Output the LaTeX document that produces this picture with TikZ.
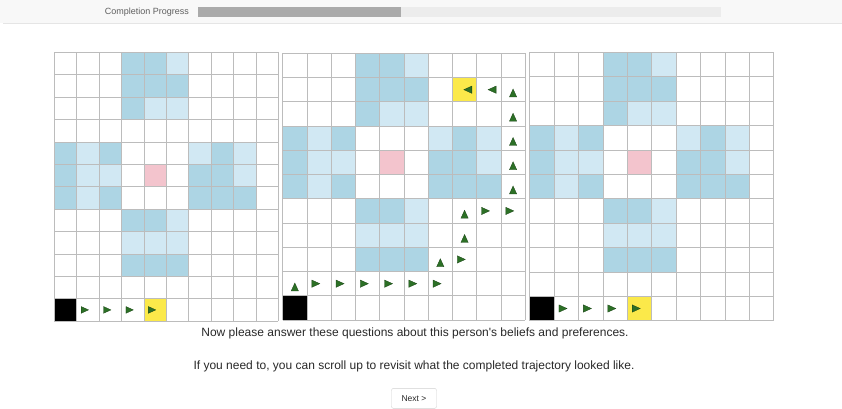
\documentclass[tikz,border=0pt]{standalone}
\usepackage{fontspec}
\setmainfont{Liberation Sans}
\usepackage{tikz}
\usetikzlibrary{positioning}
\definecolor{barback}{RGB}{248,248,248}
\definecolor{barline}{RGB}{229,229,229}
\definecolor{trackgray}{RGB}{236,236,236}
\definecolor{fillgray}{RGB}{170,170,170}
\definecolor{labelgray}{RGB}{95,95,95}
\definecolor{textdark}{RGB}{40,40,40}
\definecolor{gridgray}{RGB}{188,188,188}
\definecolor{cellblue}{RGB}{173,213,228}
\definecolor{cellpale}{RGB}{209,232,243}
\definecolor{goalpink}{RGB}{243,196,205}
\definecolor{stopyellow}{RGB}{251,233,74}
\definecolor{movegreen}{RGB}{44,112,38}
\definecolor{movedark}{RGB}{24,66,20}

\newcommand{\paintworld}[2]{%
  \foreach \c/\r in {3/0,4/0,3/1,4/1,5/1,3/2}
    \fill[cellblue] (\c,\r) rectangle ++(1,1);
  \foreach \c/\r in {5/0,4/2,5/2}
    \fill[cellpale] (\c,\r) rectangle ++(1,1);
  \foreach \c/\r in {0/0,2/0,7/0,0/1,6/1,7/1,0/2,2/2,6/2,7/2,8/2}
    \fill[cellblue] (\c,#1+\r) rectangle ++(1,1);
  \foreach \c/\r in {1/0,6/0,8/0,1/1,2/1,8/1,1/2}
    \fill[cellpale] (\c,#1+\r) rectangle ++(1,1);
  \fill[goalpink] (4,#1+1) rectangle ++(1,1);
  \foreach \c/\r in {3/0,4/0,3/2,4/2,5/2}
    \fill[cellblue] (\c,#2+\r) rectangle ++(1,1);
  \foreach \c/\r in {5/0,3/1,4/1,5/1}
    \fill[cellpale] (\c,#2+\r) rectangle ++(1,1);
}
\newcommand{\gridlines}[1]{%
  \foreach \c in {0,...,10} \draw[gridline] (\c,0) -- (\c,#1);
  \foreach \r in {0,...,#1} \draw[gridline] (0,\r) -- (10,\r);
}
\newcommand{\trail}[3]{%
  \path[mover, shift={(#1+0.5,#2+0.5)}, rotate=#3]
    (-0.3,-0.15) -- (-0.3,0.15) -- (0.03,0) -- cycle;}

\begin{document}
\begin{tikzpicture}[x=1pt, y=-1pt,
  every node/.style={font=\fontsize{12}{14}\selectfont, text=textdark, inner sep=0pt},
  gridline/.style={draw=gridgray, line width=0.7pt},
  mover/.style={fill=movegreen, draw=movedark, line width=0.3pt},
  progress/.style={font=\fontsize{9}{11}\selectfont, text=labelgray},
  track/.style={anchor=west, minimum height=9.4pt},
  button/.style={draw=gridgray!70, rounded corners=2pt, fill=white,
      minimum width=45pt, minimum height=20pt, font=\fontsize{8.5}{10}\selectfont}
]
\useasboundingbox (0,0) rectangle (842,408);
\fill[barback] (0,0) rectangle (842,23);
\draw[barline, line width=0.8pt] (3,23) -- (842,23);
\node[progress, anchor=east] (progress) at (189,12) {Completion Progress};
\node[track, fill=trackgray, minimum width=523pt] (track) at (198,12) {};
\node[track, fill=fillgray, minimum width=203pt] (done) at (track.west) {};

\begin{scope}[shift={(54.3,52.3)}, x=22.4pt, y=-22.4pt]
  \paintworld{4}{7}
  \fill[black] (0,11) rectangle ++(1,1);
  \fill[stopyellow] (4,11) rectangle ++(1,1);
  \gridlines{12}
  \foreach \c in {1,...,4} \trail{\c}{11}{0};
\end{scope}

\begin{scope}[shift={(282.7,53.3)}, x=24.25pt, y=-24.25pt]
  \paintworld{3}{6}
  \fill[black] (0,10) rectangle ++(1,1);
  \fill[stopyellow] (7,1) rectangle ++(1,1);
  \gridlines{11}
  \trail{0}{9}{90}
  \foreach \c in {1,...,6} \trail{\c}{9}{0};
  \trail{6}{8}{90} \trail{7}{8}{0}
  \trail{7}{7}{90} \trail{7}{6}{90}
  \trail{8}{6}{0} \trail{9}{6}{0}
  \foreach \r in {1,...,5} \trail{9}{\r}{90};
  \trail{8}{1}{180} \trail{7}{1}{180}
\end{scope}

\begin{scope}[shift={(529.7,52.3)}, x=24.4pt, y=-24.4pt]
  \paintworld{3}{6}
  \fill[black] (0,10) rectangle ++(1,1);
  \fill[stopyellow] (4,10) rectangle ++(1,1);
  \gridlines{11}
  \foreach \c in {1,...,4} \trail{\c}{10}{0};
\end{scope}

\node[anchor=base] (ask) at (415,336.5)
  {Now please answer these questions about this person\textquotesingle s beliefs and preferences.};
\node[anchor=base] (scroll) at (414,369.5)
  {If you need to, you can scroll up to revisit what the completed trajectory looked like.};
\node[button, below=16pt of scroll] (next) {Next >};
\end{tikzpicture}
\end{document}
